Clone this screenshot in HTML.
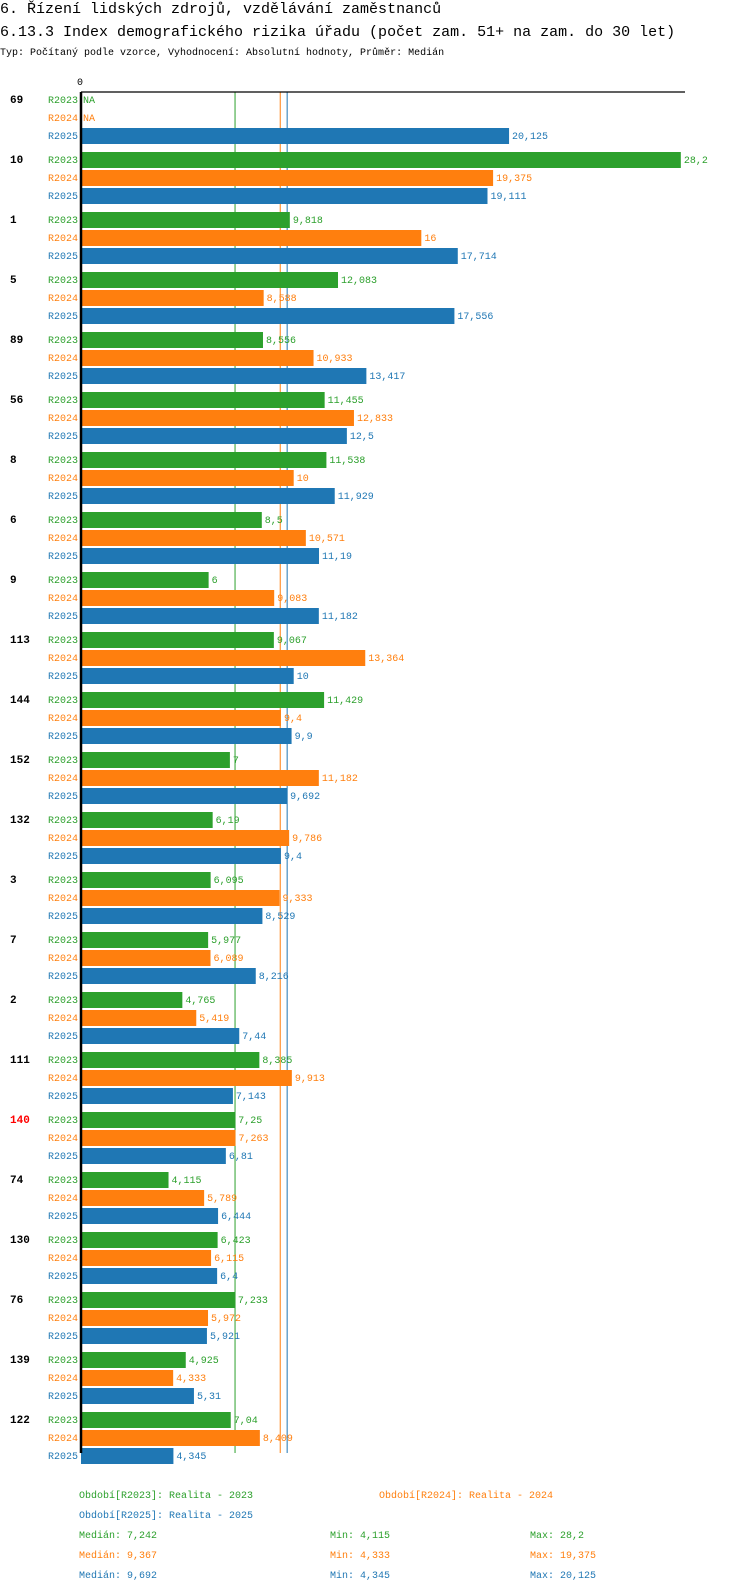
<!DOCTYPE html>
<html><head><meta charset="utf-8"><style>
body{margin:0;background:#fff;width:750px;height:1592px;overflow:hidden;font-family:"Liberation Mono",monospace}
svg{display:block}
</style></head><body>
<svg id="c" width="750" height="1592" xmlns="http://www.w3.org/2000/svg" font-family="Liberation Mono, monospace">
<text x="0" y="13" font-size="15" fill="#000">6. Řízení lidských zdrojů, vzdělávání zaměstnanců</text>
<text x="0" y="36" font-size="15" fill="#000">6.13.3 Index demografického rizika úřadu (počet zam. 51+ na zam. do 30 let)</text>
<text x="0" y="55" font-size="10" fill="#000">Typ: Počítaný podle vzorce, Vyhodnocení: Absolutní hodnoty, Průměr: Medián</text>
<g id="plot"></g>
</svg>
<script>
const groups=["69","10","1","5","89","56","8","6","9","113","144","152","132","3","7","2","111","140","74","130","76","139","122"];
const r2023=[null,28.2,9.818,12.083,8.556,11.455,11.538,8.5,6,9.067,11.429,7,6.19,6.095,5.977,4.765,8.385,7.25,4.115,6.423,7.233,4.925,7.04];
const r2024=[null,19.375,16,8.588,10.933,12.833,10,10.571,9.083,13.364,9.4,11.182,9.786,9.333,6.089,5.419,9.913,7.263,5.789,6.115,5.972,4.333,8.409];
const r2025=[20.125,19.111,17.714,17.556,13.417,12.5,11.929,11.19,11.182,10,9.9,9.692,9.4,8.529,8.216,7.44,7.143,6.81,6.444,6.4,5.921,5.31,4.345];
const seriesNames=["R2023","R2024","R2025"];
const medians=[7.242,9.367,9.692];
const mins=[4.115,4.333,4.345];
const maxs=[28.2,19.375,20.125];
const highlight="140";
const colors=["#2ca02c","#ff7f0e","#1f77b4"];
const X0=81,K=21.27,TOP=92,GP=60,RP=18,BH=16;
const xs=v=>X0+v*K;
const fmt=v=>String(v).replace('.',',');
const NS="http://www.w3.org/2000/svg";
const plot=document.getElementById('plot');
function mk(tag,attrs,parent){const e=document.createElementNS(NS,tag);for(const k in attrs)e.setAttribute(k,attrs[k]);(parent||plot).appendChild(e);return e;}
const series=[r2023,r2024,r2025];
const bottom=TOP+groups.length*GP-19;
medians.forEach((m,i)=>{
  const l=mk('line',{x1:xs(m),x2:xs(m),y1:TOP,y2:bottom,stroke:colors[i],'stroke-width':1});
  
  
});
groups.forEach((g,gi)=>{
  const gy=TOP+gi*GP;
  const gl=mk('text',{x:10,y:gy+11,'font-size':11,'font-weight':'bold',fill:g===highlight?'#ff0000':'#000'});
  gl.textContent=g;
  
  
  series.forEach((s,si)=>{
    const y=gy+si*RP;
    const pl=mk('text',{x:78,y:y+11,'font-size':10,fill:colors[si],'text-anchor':'end'});
    pl.textContent=seriesNames[si];
    
    
    const v=s[gi];
    if(v==null){
      const na=mk('text',{x:X0+2,y:y+11,'font-size':10,fill:colors[si]});
      na.textContent='NA';
      
      
      return;
    }
    const b=mk('rect',{x:X0,y:y,width:xs(v)-X0,height:BH,fill:colors[si]});
    
    
    const t=mk('text',{x:xs(v)+3,y:y+11,'font-size':10,fill:colors[si]});
    t.textContent=fmt(v);
    
    
  });
});
const ax=mk('line',{x1:X0,x2:X0,y1:TOP,y2:bottom,stroke:'#000','stroke-width':2.5});


const tx=mk('line',{x1:X0,x2:685,y1:TOP,y2:TOP,stroke:'#000','stroke-width':1.3});


const z=mk('text',{x:X0-1,y:TOP-7,'font-size':10,fill:'#000','text-anchor':'middle'});
z.textContent='0';


const leg=[[79,1498,"Období[R2023]: Realita - 2023",0],[379,1498,"Období[R2024]: Realita - 2024",1],[79,1518,"Období[R2025]: Realita - 2025",2]];
leg.forEach(l=>{
  const t=mk('text',{x:l[0],y:l[1],'font-size':10,fill:colors[l[3]]});
  t.textContent=l[2];
  
  
});
[0,1,2].forEach(i=>{
  const y=1538+i*20;
  const a=mk('text',{x:79,y:y,'font-size':10,fill:colors[i]});
  a.textContent='Medián: '+fmt(medians[i]);
  
  
  const b=mk('text',{x:330,y:y,'font-size':10,fill:colors[i]});
  b.textContent='Min: '+fmt(mins[i]);
  
  
  const c=mk('text',{x:530,y:y,'font-size':10,fill:colors[i]});
  c.textContent='Max: '+fmt(maxs[i]);
  
  
});
</script>
</body></html>
